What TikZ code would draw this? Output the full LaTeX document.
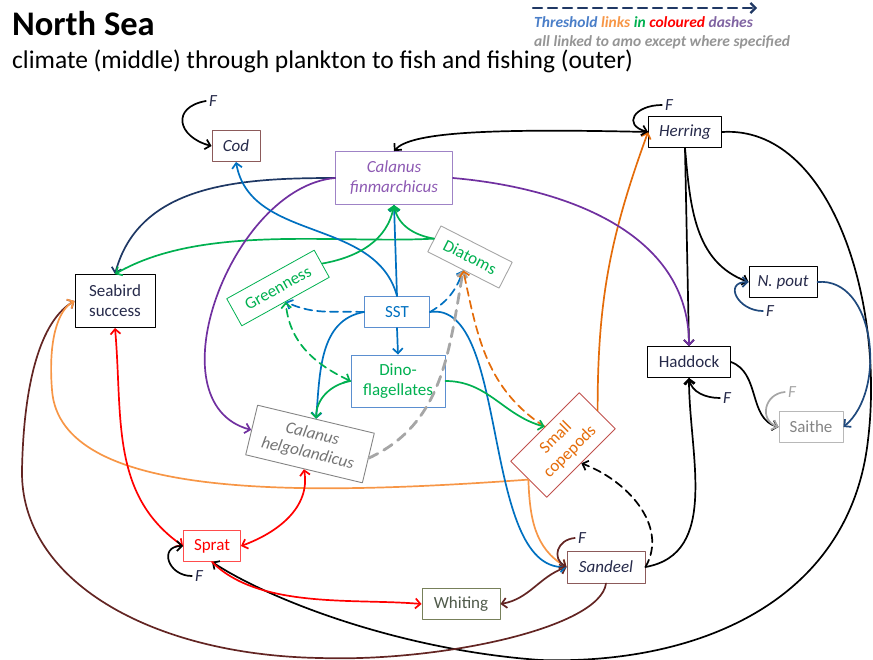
\documentclass[tikz,border=0pt]{standalone}
\usepackage{fontspec}
\setmainfont{Carlito}
\usetikzlibrary{arrows.meta}
\definecolor{cblue}{HTML}{0070C0}
\definecolor{cgreen}{HTML}{00B050}
\definecolor{cpurple}{HTML}{7030A0}
\definecolor{cnavy}{HTML}{1F3864}
\definecolor{corange}{HTML}{E46C0A}
\definecolor{clorange}{HTML}{F79646}
\definecolor{cred}{HTML}{FF0000}
\definecolor{cbrown}{HTML}{632523}
\definecolor{cgray}{HTML}{A6A6A6}
\definecolor{cdblue}{HTML}{1F497D}
\definecolor{ctext}{HTML}{262A4A}
\definecolor{cbrd}{HTML}{8C5A5A}
\definecolor{cpurline}{HTML}{9F83C6}
\definecolor{cboxblue}{HTML}{5B8FD0}
\definecolor{ccopline}{HTML}{C0504D}
\definecolor{colive}{HTML}{77805A}
\definecolor{colivetext}{HTML}{4F5A4A}
\definecolor{clegblue}{HTML}{4A7EC8}
\definecolor{clegpurple}{HTML}{8064A2}
\tikzset{
	box/.style={draw, line width=0.9pt, inner sep=0pt, align=center, minimum height=31pt, font=\fontsize{17}{20}\selectfont},
	itbox/.style={box, font=\fontsize{17}{20}\selectfont\itshape},
	lnk/.style={line width=1.7pt, ->},
	dsh/.style={lnk, dash pattern=on 8pt off 5pt},
	flab/.style={inner sep=3pt, text=ctext, font=\fontsize{17}{20}\selectfont\itshape}
}
\begin{document}
\begin{tikzpicture}[x=1pt, y=-1pt, line join=round, line cap=round, >={Straight Barb[length=5pt,width=10pt]}]
	\useasboundingbox (0,0) rectangle (873,659);
	\path
	(533,8) coordinate (legA)
	(757,8) coordinate (legB);
	\node[anchor=base west, inner sep=0pt, font=\fontsize{34.5}{40}\selectfont\bfseries] (title) at (12,35) {North Sea};
	\node[anchor=base west, inner sep=0pt, font=\fontsize{25.5}{30}\selectfont] (subtitle) at (12,68) {climate (middle) through plankton to fish and fishing (outer)};
	\draw[->, cnavy, line width=2.2pt, dash pattern=on 9pt off 6pt] (legA) -- (legB);
	\node[anchor=base west, inner sep=0pt, font=\fontsize{15.5}{18}\selectfont\bfseries\itshape] (leg1) at (534,27) {\textcolor{clegblue}{Threshold} \textcolor{clorange}{links} \textcolor{cgreen}{in} \textcolor{cred}{coloured} \textcolor{clegpurple}{dashes}};
	\node[anchor=base west, inner sep=0pt, font=\fontsize{15.5}{18}\selectfont\bfseries\itshape, text=cgray!90!black] (leg2) at (534,46) {all linked to amo except where specified};

	\node[itbox, draw=cbrd, text=ctext, minimum width=48pt] (cod) at (236,146) {Cod};
	\node[itbox, draw=cpurline, text=cpurple!80, minimum width=117pt, minimum height=53pt] (calfin) at (394,178) {Calanus\\finmarchicus};
	\node[itbox, draw=black, text=ctext, minimum width=73pt] (herring) at (685,132) {Herring};
	\node[box, draw=black, text=ctext, minimum width=80pt, minimum height=53pt] (seabird) at (115,301) {Seabird\\success};
	\node[box, draw=cgreen, line width=0.8pt, text=cgreen, minimum width=100pt, rotate=29] (green) at (278,288) {Greenness};
	\node[box, draw=cgray, text=cgreen, minimum width=80pt, minimum height=29pt, rotate=-27] (diatoms) at (470,257) {Diatoms};
	\node[box, draw=cboxblue, text=cblue, minimum width=65pt] (sst) at (397,312) {SST};
	\node[box, draw=cboxblue, text=cgreen, minimum width=94pt, minimum height=52pt] (dino) at (398,381) {Dino-\\flagellates};
	\node[itbox, draw=cgray!80!black, text=cgray!70!black, minimum width=120pt, minimum height=51pt, rotate=-13.5] (calhel) at (310,444) {Calanus\\helgolandicus};
	\node[box, draw=ccopline, text=corange, minimum width=97pt, minimum height=51pt, rotate=45] (copepods) at (563,445) {Small\\copepods};
	\node[itbox, draw=black, text=ctext, minimum width=68pt] (npout) at (783,282) {N. pout};
	\node[box, draw=black, text=ctext, minimum width=83pt] (haddock) at (689,362) {Haddock};
	\node[box, draw=cgray!80, text=cgray!80!black, minimum width=64pt] (saithe) at (811,427) {Saithe};
	\node[box, draw=cred!70, text=cred, minimum width=57pt] (sprat) at (212,546) {Sprat};
	\node[box, draw=colive, text=colivetext, minimum width=78pt] (whiting) at (461,604) {Whiting};
	\node[itbox, draw=cbrd, text=ctext, minimum width=78pt, minimum height=32pt] (sandeel) at (606,567) {Sandeel};

	\foreach \nm/\x/\y in {fcod/213/101, fherring/669/105, fnpout/770/311, fhaddock/727/398, fsprat/199/576, fsandeel/582/538}
	\node[flab] (\nm) at (\x,\y) {F};
	\node[flab, text=cgray] (fsaithe) at (792,392) {F};

	\draw[lnk] (herring.west) .. controls (480,128) and (410,133) .. (calfin.north);
	\draw[lnk, corange] (copepods.east) to[out=90, in=250] (herring.west);
	\draw[lnk] (herring.south) -- (haddock.north);
	\draw[lnk] (herring.south) to[out=-85, in=160] (npout.west);
	\draw[lnk] (herring.east) .. controls (830,125) and (885,300) .. (868,440) .. controls (850,600) and (700,665) .. (540,660) .. controls (400,650) and (270,600) .. (sprat.south);
	\draw[lnk] (sandeel.east) to[out=10, in=-90] (haddock.south);
	\draw[dsh, black] (sandeel.east) to[out=60, in=-20] (copepods.south);
	\draw[lnk, <->, cbrown] (sandeel.west) to[out=200, in=10] (whiting.east);
	\draw[lnk, cbrown] (sandeel.south) .. controls (600,628) and (440,662) .. (320,658) .. controls (150,655) and (20,580) .. (22,470) .. controls (24,370) and (45,318) .. (seabird.west);
	\draw[lnk, clorange] (copepods.west) .. controls (300,496) and (60,500) .. (52,390) .. controls (48,340) and (58,310) .. (seabird.west);
	\draw[lnk, clorange] (copepods.west) to[out=-88, in=150] (sandeel.west);

	\draw[lnk, <->, cred] (seabird.south) to[out=-85, in=145] (sprat.west);
	\draw[lnk, <->, cred] (sprat.east) to[out=20, in=-80] (calhel.south);
	\draw[lnk, cred] (sprat.south) to[out=-45, in=175, looseness=0.8] (whiting.west);

	\draw[lnk, cnavy] (calfin.west) to[out=180, in=75] (seabird.north);
	\draw[lnk, cgreen] (diatoms.west) to[out=183, in=30, looseness=0.8] (seabird.north);
	\draw[lnk, cpurple] (calfin.west) to[out=185, in=165] (calhel.west);
	\draw[lnk, cpurple] (calfin.east) to[out=-5, in=90] (haddock.north);

	\draw[lnk, cblue] (sst.north) to[out=105, in=-80] (cod.south);
	\draw[lnk, cblue] (sst.north) -- (calfin.south);
	\draw[lnk, cblue] (sst.south) -- (dino.north);
	\draw[lnk, cblue] (sst.west) to[out=190, in=85] (calhel.north);
	\draw[lnk, cblue] (sst.east) .. controls (510,300) and (480,570) .. (sandeel.west);
	\draw[dsh, cblue] (sst.west) to[out=178, in=-25] (green.south);
	\draw[dsh, cblue] (sst.east) to[out=30, in=-110] (diatoms.south);

	\draw[dsh, cgray, line width=2.8pt, dash pattern=on 10pt off 7pt] (calhel.east) to[out=25, in=-100] (diatoms.south);
	\draw[dsh, corange] (copepods.north) to[out=147, in=-78] (diatoms.south);
	\draw[lnk, cgreen] (dino.east) to[out=0, in=165] (copepods.north);
	\draw[lnk, cgreen] (dino.west) to[out=190, in=90] (calhel.north);
	\draw[dsh, <->, cgreen] (dino.west) to[out=155, in=-85] (green.south);
	\draw[lnk, cgreen] (green.east) to[out=10, in=-100] (calfin.south);
	\draw[lnk, cgreen] (diatoms.west) to[out=170, in=-80] (calfin.south);

	\draw[lnk] (haddock.east) to[out=-20, in=165] (saithe.west);
	\draw[lnk, cdblue] (npout.east) to[out=5, in=40] (saithe.east);

	\draw[lnk] (fcod.west) to[out=190, in=165, looseness=2] (cod.west);
	\draw[lnk] (fherring.west) to[out=180, in=165, looseness=2.3] (herring.west);
	\draw[lnk, cdblue] (fnpout.west) to[out=180, in=180, looseness=2] (npout.west);
	\draw[lnk] (fhaddock.west) to[out=180, in=-80] (haddock.south);
	\draw[lnk, cgray] (fsaithe.west) to[out=185, in=160, looseness=1.5] (saithe.west);
	\draw[lnk] (fsprat.west) to[out=180, in=180, looseness=2] (sprat.west);
	\draw[lnk, cbrown] (fsandeel.west) to[out=185, in=150, looseness=1.5] (sandeel.west);
\end{tikzpicture}
\end{document}
